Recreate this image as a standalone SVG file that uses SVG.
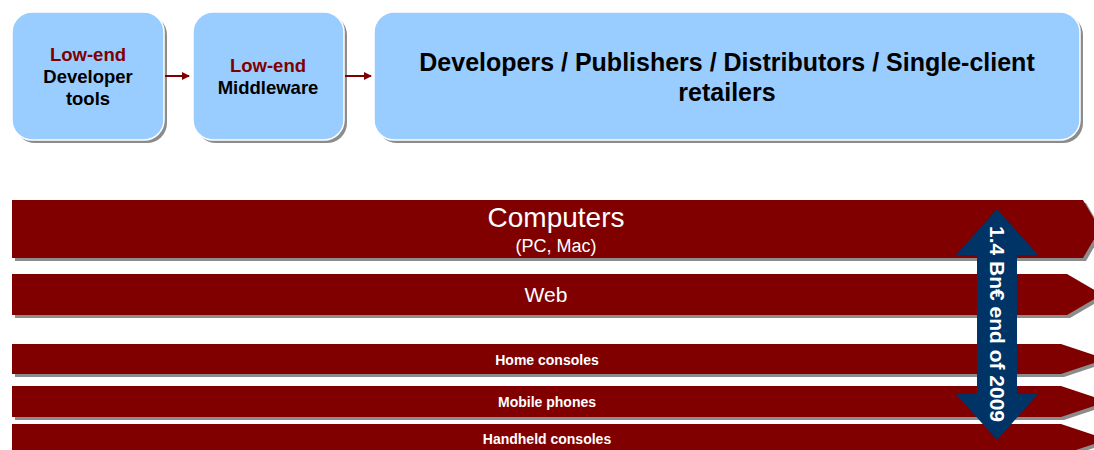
<svg xmlns="http://www.w3.org/2000/svg" width="1094" height="450" viewBox="0 0 1094 450">
<defs>
<style>
.box{fill:#99ccff;stroke:#ffffff;stroke-width:1.5}
.shadow{fill:#8c8c8c}
.band{fill:#800000}
.bt{font-family:"Liberation Sans",Arial,sans-serif;font-weight:bold;text-anchor:middle;fill:#000}
.red{fill:#800000}
.wt{font-family:"Liberation Sans",Arial,sans-serif;text-anchor:middle;fill:#ffffff}
.conn{stroke:#800000;stroke-width:2;fill:none}
</style>
<marker id="ah" markerWidth="8" markerHeight="8" refX="7" refY="4" orient="auto" markerUnits="userSpaceOnUse">
<path d="M0,0 L8,4 L0,8 Z" fill="#800000"/>
</marker>
</defs>
<rect width="1094" height="450" fill="#ffffff"/>

<g id="box-devtools">
<rect class="shadow" x="15" y="15" width="152" height="128" rx="20"/>
<rect class="box" x="12" y="12" width="152" height="128" rx="20"/>
<text class="bt" font-size="18.5"><tspan class="red" x="88" y="61">Low-end</tspan><tspan x="88" y="83">Developer</tspan><tspan x="88" y="105">tools</tspan></text>
</g>

<g id="box-middleware">
<rect class="shadow" x="196" y="15" width="151" height="128" rx="20"/>
<rect class="box" x="193" y="12" width="151" height="128" rx="20"/>
<text class="bt" font-size="18.5"><tspan class="red" x="268" y="72">Low-end</tspan><tspan x="268" y="94">Middleware</tspan></text>
</g>

<g id="box-publishers">
<rect class="shadow" x="377" y="15" width="706" height="128" rx="20"/>
<rect class="box" x="374" y="12" width="706" height="128" rx="20"/>
<text class="bt" font-size="25"><tspan x="727" y="71">Developers / Publishers / Distributors / Single-client</tspan><tspan x="727" y="101">retailers</tspan></text>
</g>

<g id="connectors">
<line class="conn" x1="165" y1="76" x2="189" y2="76" marker-end="url(#ah)"/>
<line class="conn" x1="345" y1="76" x2="371" y2="76" marker-end="url(#ah)"/>
</g>

<g id="band-computers">
<polygon class="shadow" points="15,203 1086,203 1103,232 1086,261 15,261"/>
<polygon class="band" points="12,200 1083,200 1100,229 1083,258 12,258"/>
<text class="wt" x="556" y="227" font-size="28">Computers</text>
<text class="wt" x="556" y="252" font-size="18">(PC, Mac)</text>
</g>

<g id="band-web">
<polygon class="shadow" points="15,277 1070,277 1105,297.5 1070,318 15,318"/>
<polygon class="band" points="12,274 1067,274 1102,294.5 1067,315 12,315"/>
<text class="wt" x="546" y="302" font-size="21">Web</text>
</g>

<g id="band-home">
<polygon class="shadow" points="15,347 1064,347 1109,362 1064,377 15,377"/>
<polygon class="band" points="12,344 1061,344 1106,359 1061,374 12,374"/>
<text class="wt" x="547" y="365" font-size="14" font-weight="bold">Home consoles</text>
</g>

<g id="band-mobile">
<polygon class="shadow" points="15,389 1064,389 1110,404.5 1064,420 15,420"/>
<polygon class="band" points="12,386 1061,386 1107,401.5 1061,417 12,417"/>
<text class="wt" x="547" y="407" font-size="14" font-weight="bold">Mobile phones</text>
</g>

<g id="band-handheld">
<polygon class="shadow" points="15,427 1064,427 1110,442.5 1064,458 15,458"/>
<polygon class="band" points="12,424 1061,424 1107,439.5 1061,455 12,455"/>
<text class="wt" x="547" y="444" font-size="14" font-weight="bold">Handheld consoles</text>
</g>

<g id="double-arrow">
<polygon fill="#003366" points="997,209 1038,255 1017,255 1017,394 1038,394 997,440 956,394 977,394 977,255 956,255"/>
<text class="wt" font-size="21" font-weight="bold" transform="translate(997,324) rotate(90)" x="0" y="7">1.4 Bn€ end of 2009</text>
</g>
</svg>
